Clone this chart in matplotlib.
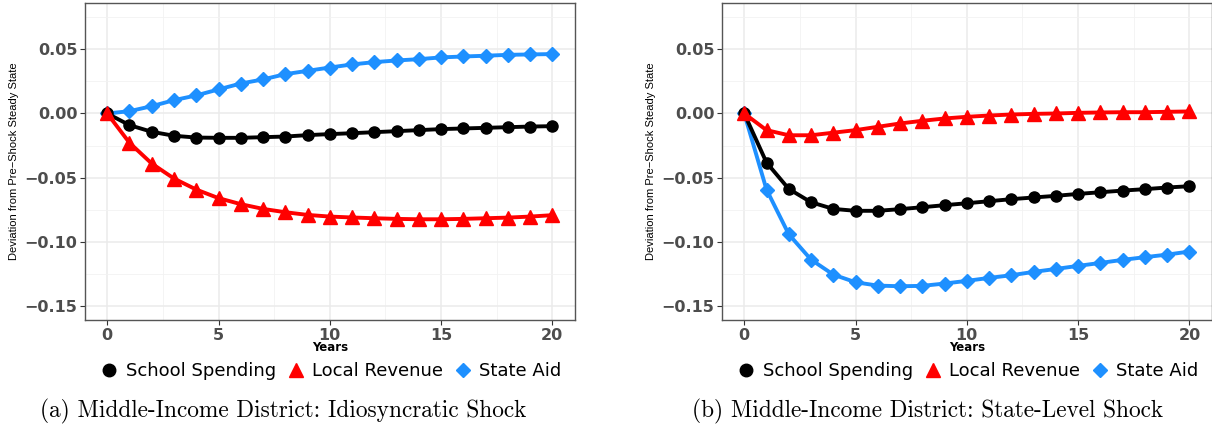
import matplotlib
matplotlib.use("Agg")
import matplotlib.pyplot as plt
from matplotlib.lines import Line2D
import numpy as np

years = list(range(21))

# panel (a): idiosyncratic shock
spend_a = [0, -0.0091, -0.0143, -0.0174, -0.0188, -0.0190, -0.0190, -0.0185, -0.0180, -0.0169, -0.0161,
           -0.0154, -0.0146, -0.0138, -0.0130, -0.0122, -0.0117, -0.0112, -0.0107, -0.0102, -0.0099]
local_a = [0, -0.0229, -0.0391, -0.0508, -0.0594, -0.0661, -0.0708, -0.0745, -0.0771, -0.0792, -0.0805,
           -0.0812, -0.0818, -0.0823, -0.0826, -0.0826, -0.0823, -0.0818, -0.0813, -0.0805, -0.0794]
aid_a = [0, 0.0018, 0.0057, 0.0104, 0.0141, 0.0188, 0.0234, 0.0266, 0.0307, 0.0333, 0.0359,
         0.0383, 0.0401, 0.0414, 0.0424, 0.0438, 0.0445, 0.0451, 0.0458, 0.0461, 0.0464]

# panel (b): state-level shock
spend_b = [0, -0.0383, -0.0589, -0.0693, -0.0745, -0.0760, -0.0760, -0.0747, -0.0732, -0.0716, -0.0701,
           -0.0685, -0.0669, -0.0656, -0.0643, -0.0628, -0.0615, -0.0602, -0.0591, -0.0578, -0.0568]
local_b = [0, -0.0130, -0.0170, -0.0170, -0.0150, -0.0130, -0.0104, -0.0078, -0.0057, -0.0039, -0.0026,
           -0.0016, -0.0008, -0.0003, 0.0, 0.0005, 0.0008, 0.0010, 0.0010, 0.0013, 0.0016]
aid_b = [0, -0.0594, -0.0943, -0.1141, -0.1258, -0.1318, -0.1344, -0.1349, -0.1346, -0.1328, -0.1307,
         -0.1284, -0.1263, -0.1237, -0.1214, -0.1190, -0.1167, -0.1143, -0.1122, -0.1102, -0.1078]

captions = ["(a) Middle-Income District: Idiosyncratic Shock",
            "(b) Middle-Income District: State-Level Shock"]

BLUE = "#1E90FF"
RED = "#FF0000"
GRAY = "#4D4D4D"

fig = plt.figure(figsize=(12.12, 4.33), dpi=100)
ax1 = fig.add_axes([0.0701, 0.261, 0.404, 0.732])
ax2 = fig.add_axes([0.5957, 0.261, 0.404, 0.732])


def draw(ax, spend, local, aid):
    ax.plot(years, aid, color=BLUE, lw=2.8, marker="D", ms=7, zorder=3)
    ax.plot(years, spend, color="black", lw=2.8, marker="o", ms=8, zorder=4)
    ax.plot(years, local, color=RED, lw=2.8, marker="^", ms=9.5, zorder=5)
    ax.set_xlim(-1, 21)
    ax.set_ylim(-0.16125, 0.08625)
    ax.set_xticks([0, 5, 10, 15, 20])
    ax.set_yticks([-0.15, -0.10, -0.05, 0.00, 0.05])
    ax.set_xticks([2.5, 7.5, 12.5, 17.5], minor=True)
    ax.set_yticks([-0.125, -0.075, -0.025, 0.025, 0.075], minor=True)
    ax.set_yticklabels(["\u22120.15", "\u22120.10", "\u22120.05", "0.00", "0.05"])
    ax.grid(True, which="major", color="#EBEBEB", lw=1.1, zorder=0)
    ax.grid(True, which="minor", color="#F2F2F2", lw=0.6, zorder=0)
    ax.tick_params(which="major", length=3.5, width=0.8, color="#333333",
                   labelsize=11.5, labelcolor=GRAY, pad=2)
    ax.tick_params(which="minor", length=0)
    for lab in ax.get_xticklabels() + ax.get_yticklabels():
        lab.set_fontweight("bold")
    for s in ax.spines.values():
        s.set_color("#555555")
        s.set_linewidth(1.0)
    ax.set_axisbelow(True)
    ax.set_xlabel("Years", fontsize=8.5, fontweight="bold", labelpad=-1)
    ax.set_ylabel("Deviation from Pre\u2212Shock Steady State", fontsize=8,
                  family="Liberation Sans", labelpad=4)

    handles = [
        Line2D([], [], color="black", marker="o", ls="none", ms=9),
        Line2D([], [], color=RED, marker="^", ls="none", ms=10),
        Line2D([], [], color=BLUE, marker="D", ls="none", ms=7.5),
    ]
    ax.legend(handles, ["School Spending", "Local Revenue", "State Aid"],
              loc="upper center", bbox_to_anchor=(0.5, -0.11), ncol=3,
              frameon=False, fontsize=13, handlelength=1.2, handletextpad=0.3,
              columnspacing=0.5, borderaxespad=0)


draw(ax1, spend_a, local_a, aid_a)
draw(ax2, spend_b, local_b, aid_b)

fig.text(283 / 1212, 1 - 411 / 433, captions[0], ha="center", va="center",
         family="cmr10", fontsize=16.8)
fig.text(928 / 1212, 1 - 411 / 433, captions[1], ha="center", va="center",
         family="cmr10", fontsize=16.8)

fig.savefig("out.png", dpi=100)
